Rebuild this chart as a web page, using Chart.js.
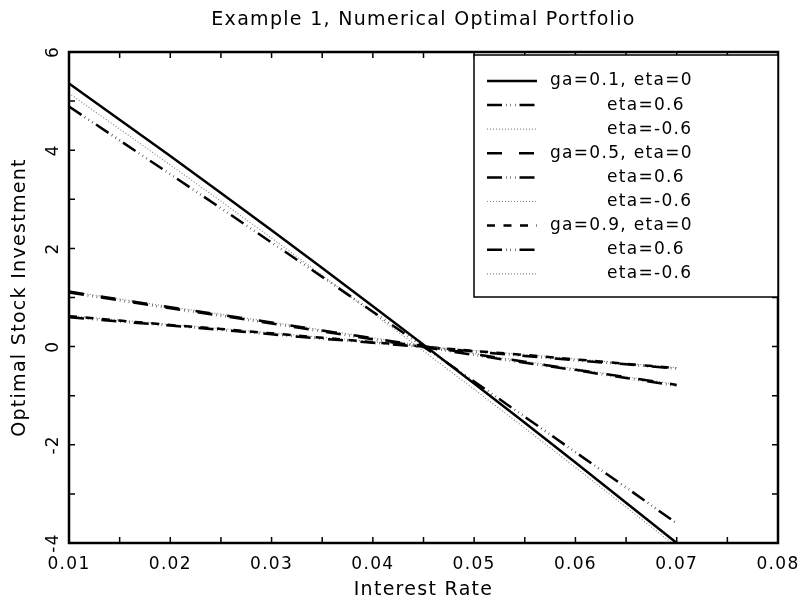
<!DOCTYPE html>
<html>
<head>
<meta charset="utf-8">
<script src="https://cdn.jsdelivr.net/npm/chart.js@4.4.0/dist/chart.umd.min.js"></script>
<style>
  html, body { margin: 0; padding: 0; background: #fff; }
</style>
</head>
<body>
<canvas id="chart" width="800" height="603"></canvas>
<script>
// interest rates (x)
const rates = [0.01, 0.015, 0.02, 0.025, 0.03, 0.035, 0.04, 0.045, 0.05, 0.055, 0.06, 0.065, 0.07];

// ga = 0.1
const ga01Eta0 = [5.36, 4.62, 3.88, 3.13, 2.37, 1.60, 0.82, 0.04, -0.75, -1.55, -2.36, -3.18, -4.00];
const ga01EtaP = [4.89, 4.20, 3.51, 2.82, 2.12, 1.42, 0.71, 0.00, -0.71, -1.43, -2.15, -2.87, -3.60];
const ga01EtaN = [5.16, 4.43, 3.70, 2.96, 2.21, 1.45, 0.68, -0.09, -0.87, -1.66, -2.46, -3.27, -4.08];
// ga = 0.5
const ga05Eta0 = [1.12, 0.96, 0.80, 0.65, 0.49, 0.33, 0.17, 0.01, -0.15, -0.31, -0.47, -0.62, -0.78];
const ga05EtaP = [1.10, 0.94, 0.78, 0.63, 0.47, 0.31, 0.15, -0.01, -0.17, -0.33, -0.48, -0.64, -0.80];
const ga05EtaN = [1.13, 0.97, 0.81, 0.66, 0.50, 0.34, 0.18, 0.02, -0.14, -0.30, -0.45, -0.61, -0.77];
// ga = 0.9
const ga09Eta0 = [0.62, 0.53, 0.44, 0.36, 0.27, 0.18, 0.09, 0.00, -0.09, -0.17, -0.26, -0.35, -0.44];
const ga09EtaP = [0.60, 0.51, 0.43, 0.34, 0.25, 0.16, 0.08, -0.01, -0.10, -0.19, -0.28, -0.36, -0.45];
const ga09EtaN = [0.63, 0.54, 0.45, 0.37, 0.28, 0.19, 0.10, 0.01, -0.08, -0.16, -0.25, -0.34, -0.43];

const seriesLabels = ['ga=0.1, eta=0', 'eta=0.6', 'eta=-0.6',
                      'ga=0.5, eta=0', 'eta=0.6', 'eta=-0.6',
                      'ga=0.9, eta=0', 'eta=0.6', 'eta=-0.6'];
const seriesValues = [ga01Eta0, ga01EtaP, ga01EtaN, ga05Eta0, ga05EtaP, ga05EtaN, ga09Eta0, ga09EtaP, ga09EtaN];

// IDL-like line styles
const SOLID = { borderDash: [], borderWidth: 2.5, borderColor: '#000' };
const DASHDOTS = { borderDash: [15, 4, 0.5, 4, 0.5, 4, 0.5, 4], borderWidth: 2.5, borderColor: '#000' };
const DOTTED = { borderDash: [1, 2], borderWidth: 1.2, borderColor: '#888' };
const LONGDASH = { borderDash: [15, 17], borderWidth: 2.5, borderColor: '#000' };
const DASHED = { borderDash: [8, 8.5], borderWidth: 2.5, borderColor: '#000' };
const lineStyles = [SOLID, DASHDOTS, DOTTED, LONGDASH, DASHDOTS, DOTTED, DASHED, DASHDOTS, DOTTED];

const FONT = "'DejaVu Sans', sans-serif";

const frame = {
  id: 'frame',
  beforeUpdate(chart) { chart.ctx.letterSpacing = '1.3px'; },
  beforeDraw(chart) {
    const ctx = chart.ctx;
    ctx.letterSpacing = '1.3px';
    ctx.save();
    ctx.fillStyle = '#fff';
    ctx.fillRect(0, 0, chart.width, chart.height);
    ctx.restore();
  },
  afterDatasetsDraw(chart) {
    const { ctx, chartArea: a, scales: { x, y } } = chart;
    const len = 6;
    ctx.save();
    ctx.strokeStyle = '#000';
    ctx.lineWidth = 1.5;
    ctx.beginPath();
    x.ticks.forEach((t) => {
      const px = x.getPixelForValue(t.value);
      ctx.moveTo(px, a.bottom); ctx.lineTo(px, a.bottom - len);
      ctx.moveTo(px, a.top); ctx.lineTo(px, a.top + len);
    });
    y.ticks.forEach((t) => {
      const py = y.getPixelForValue(t.value);
      ctx.moveTo(a.left, py); ctx.lineTo(a.left + len, py);
      ctx.moveTo(a.right, py); ctx.lineTo(a.right - len, py);
    });
    ctx.stroke();
    ctx.lineWidth = 2.5;
    ctx.strokeRect(a.left, a.top, a.right - a.left, a.bottom - a.top);
    ctx.restore();
  },
  afterDraw(chart) {
    // legend box in the upper right of the plot
    const { ctx, chartArea: a } = chart;
    const w = 304, h = 242;
    const left = a.right - w, top = a.top + 3;
    ctx.save();
    ctx.fillStyle = '#fff';
    ctx.fillRect(left, top, w, h);
    ctx.strokeStyle = '#000';
    ctx.lineWidth = 1.5;
    ctx.strokeRect(left, top, w, h);
    ctx.font = '17px ' + FONT;
    ctx.textBaseline = 'middle';
    ctx.fillStyle = '#000';
    chart.data.datasets.forEach((ds, i) => {
      const yy = top + 26 + i * 24.1;
      ctx.save();
      ctx.setLineDash(ds.borderDash);
      ctx.lineWidth = ds.borderWidth;
      ctx.strokeStyle = ds.borderColor;
      ctx.beginPath();
      ctx.moveTo(left + 13, yy);
      ctx.lineTo(left + 63, yy);
      ctx.stroke();
      ctx.restore();
      const tx = ds.label.startsWith('ga') ? left + 76 : left + 133;
      ctx.fillText(ds.label, tx, yy);
    });
    ctx.restore();
  }
};

new Chart(document.getElementById('chart'), {
  type: 'line',
  data: {
    datasets: seriesValues.map((vals, i) => ({
      label: seriesLabels[i],
      data: rates.map((r, j) => ({ x: r, y: vals[j] })),
      ...lineStyles[i],
      borderCapStyle: 'butt',
      pointRadius: 0,
      tension: 0,
      fill: false,
    })),
  },
  options: {
    responsive: false,
    animation: false,
    layout: { padding: { left: 0, right: 22, top: 0, bottom: 0 } },
    plugins: {
      legend: { display: false },
      tooltip: { enabled: false },
      title: {
        display: true,
        text: 'Example 1, Numerical Optimal Portfolio',
        fullSize: false,
        color: '#000',
        font: { family: FONT, size: 19, weight: 'normal' },
        padding: { top: 8.5, bottom: 20.7 },
      },
    },
    scales: {
      x: {
        type: 'linear',
        min: 0.01,
        max: 0.08,
        grid: { display: false, drawTicks: false },
        border: { display: false },
        ticks: {
          stepSize: 0.005,
          autoSkip: false,
          maxRotation: 0,
          padding: 11,
          color: '#000',
          font: { family: FONT, size: 17 },
          callback: (v) => (Math.round(v * 1000) % 10 === 0 ? v.toFixed(2) : ''),
        },
        title: {
          display: true,
          text: 'Interest Rate',
          color: '#000',
          font: { family: FONT, size: 19 },
          padding: { top: 0, bottom: 1.6 },
        },
        afterFit(s) {
          s.height = 60;
          s.paddingLeft = 0;
          s.paddingRight = 0;
        },
      },
      y: {
        min: -4,
        max: 6,
        grid: { display: false, drawTicks: false },
        border: { display: false },
        ticks: {
          stepSize: 1,
          minRotation: 90,
          maxRotation: 90,
          crossAlign: 'center',
          padding: 6,
          color: '#000',
          font: { family: FONT, size: 17 },
          callback: (v) => (v % 2 === 0 ? String(v) : ''),
        },
        title: {
          display: true,
          text: 'Optimal Stock Investment',
          color: '#000',
          font: { family: FONT, size: 19 },
          padding: { top: 8.6, bottom: 0 },
        },
        afterFit(s) {
          s.width = 69;
          s.paddingTop = 0;
          s.paddingBottom = 0;
        },
      },
    },
  },
  plugins: [frame],
});
</script>
</body>
</html>
